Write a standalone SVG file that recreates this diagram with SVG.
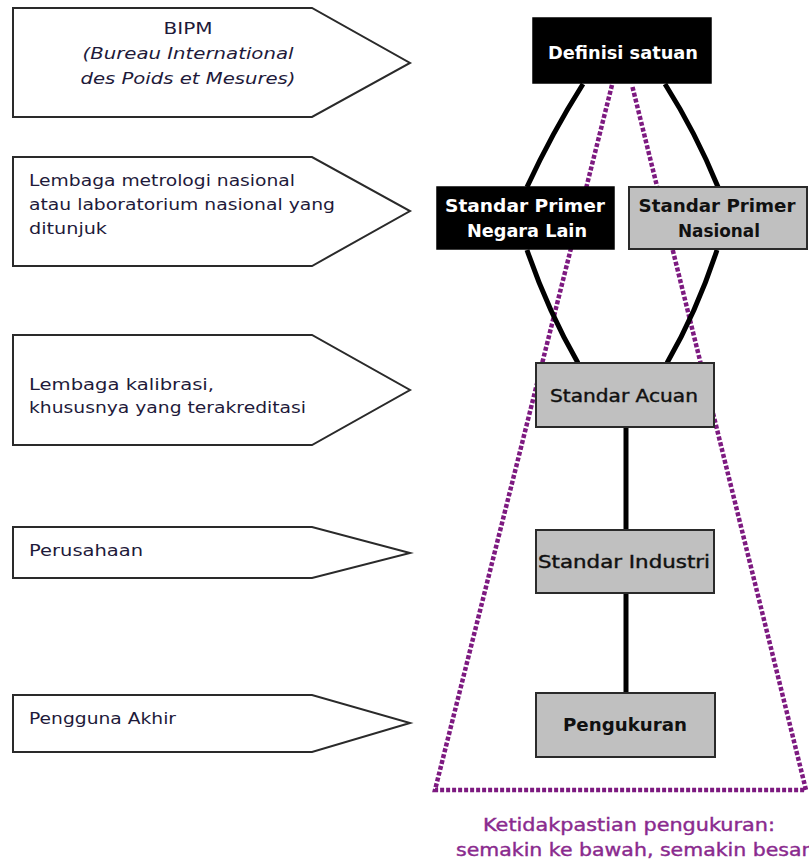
<svg xmlns="http://www.w3.org/2000/svg" width="809" height="861" viewBox="0 0 809 861">
<style>
.tag{fill:#fff;stroke:#2a2a2a;stroke-width:2;stroke-linejoin:miter}
.lt{font-family:"DejaVu Sans","Liberation Sans",sans-serif;font-size:16px;fill:#1e1a3a}
.nb{fill:#000;stroke:#000;stroke-width:1.5}
.ng{fill:#c0c0c0;stroke:#2a2a2a;stroke-width:2}
.nt{font-family:"DejaVu Sans","Liberation Sans",sans-serif;font-size:17px;text-anchor:middle}
.w{fill:#fff;font-weight:bold}
.k{fill:#111}
.conn{stroke:#000;stroke-width:5;fill:none;stroke-linecap:butt}
.dot{stroke:#7d1a80;stroke-width:4.5;fill:none;stroke-dasharray:4 2;stroke-linejoin:miter}
.cap{font-family:"DejaVu Sans","Liberation Sans",sans-serif;font-size:18px;fill:#8a2a8e;stroke:#8a2a8e;stroke-width:0.4;text-anchor:middle}
</style>
<rect width="809" height="861" fill="#fff"/>

<g id="tag-bipm">
<path class="tag" d="M13,8 H312 L410,63 L312,117 H13 Z"/>
<text class="lt" x="188" y="34" text-anchor="middle" textLength="49" lengthAdjust="spacingAndGlyphs">BIPM</text>
<text class="lt" x="188" y="59" text-anchor="middle" font-style="italic" textLength="211" lengthAdjust="spacingAndGlyphs">(Bureau International</text>
<text class="lt" x="188" y="84" text-anchor="middle" font-style="italic" textLength="215" lengthAdjust="spacingAndGlyphs">des Poids et Mesures)</text>
</g>

<g id="tag-nmi">
<path class="tag" d="M13,157 H312 L410,211 L312,266 H13 Z"/>
<text class="lt" x="29" y="186" textLength="266" lengthAdjust="spacingAndGlyphs">Lembaga metrologi nasional</text>
<text class="lt" x="29" y="210" textLength="306" lengthAdjust="spacingAndGlyphs">atau laboratorium nasional yang</text>
<text class="lt" x="29" y="234" textLength="78" lengthAdjust="spacingAndGlyphs">ditunjuk</text>
</g>

<g id="tag-kalibrasi">
<path class="tag" d="M13,335 H312 L410,390 L312,445 H13 Z"/>
<text class="lt" x="29" y="390" textLength="185" lengthAdjust="spacingAndGlyphs">Lembaga kalibrasi,</text>
<text class="lt" x="29" y="413" textLength="277" lengthAdjust="spacingAndGlyphs">khususnya yang terakreditasi</text>
</g>

<g id="tag-perusahaan">
<path class="tag" d="M13,527 H312 L410,553 L312,578 H13 Z"/>
<text class="lt" x="29" y="556" textLength="114" lengthAdjust="spacingAndGlyphs">Perusahaan</text>
</g>

<g id="tag-pengguna">
<path class="tag" d="M13,695 H312 L410,723 L312,752 H13 Z"/>
<text class="lt" x="29" y="724" textLength="147" lengthAdjust="spacingAndGlyphs">Pengguna Akhir</text>
</g>

<g id="uncertainty-cone">
<path class="dot" d="M612,85 L435,790 L806,790 L632,85"/>
</g>

<g id="connectors">
<path class="conn" d="M583,84 Q552,133 527,187"/>
<path class="conn" d="M527,250 Q548,311 578,363"/>
<path class="conn" d="M665,84 Q696,133 718,187"/>
<path class="conn" d="M717,250 Q697,311 667,363"/>
<path class="conn" d="M626,427 V530"/>
<path class="conn" d="M626,593 V693"/>
</g>

<g id="node-definisi">
<rect class="nb" x="533" y="18" width="178" height="65"/>
<text class="nt w" x="623" y="59" textLength="150" lengthAdjust="spacingAndGlyphs">Definisi satuan</text>
</g>

<g id="node-primer-lain">
<rect class="nb" x="437" y="187" width="177" height="62"/>
<text class="nt w" x="525" y="212" textLength="160" lengthAdjust="spacingAndGlyphs">Standar Primer</text>
<text class="nt w" x="527" y="237" textLength="120" lengthAdjust="spacingAndGlyphs">Negara Lain</text>
</g>

<g id="node-primer-nasional">
<rect class="ng" x="629" y="187" width="178" height="62"/>
<text class="nt k" x="717" y="212" font-weight="bold" textLength="157" lengthAdjust="spacingAndGlyphs">Standar Primer</text>
<text class="nt k" x="719" y="237" font-weight="bold" textLength="82" lengthAdjust="spacingAndGlyphs">Nasional</text>
</g>

<g id="node-acuan">
<rect class="ng" x="536" y="363" width="178" height="64"/>
<text class="nt k" x="624" y="402" stroke="#111" stroke-width="0.4" textLength="148" lengthAdjust="spacingAndGlyphs">Standar Acuan</text>
</g>

<g id="node-industri">
<rect class="ng" x="536" y="530" width="178" height="63"/>
<text class="nt k" x="624" y="568" stroke="#111" stroke-width="0.4" textLength="172" lengthAdjust="spacingAndGlyphs">Standar Industri</text>
</g>

<g id="node-pengukuran">
<rect class="ng" x="536" y="693" width="179" height="64"/>
<text class="nt k" x="625" y="731" font-weight="bold" textLength="124" lengthAdjust="spacingAndGlyphs">Pengukuran</text>
</g>

<g id="caption">
<text class="cap" x="629" y="831" textLength="292" lengthAdjust="spacingAndGlyphs">Ketidakpastian pengukuran:</text>
<text class="cap" x="633" y="856" textLength="354" lengthAdjust="spacingAndGlyphs">semakin ke bawah, semakin besar</text>
</g>
</svg>
